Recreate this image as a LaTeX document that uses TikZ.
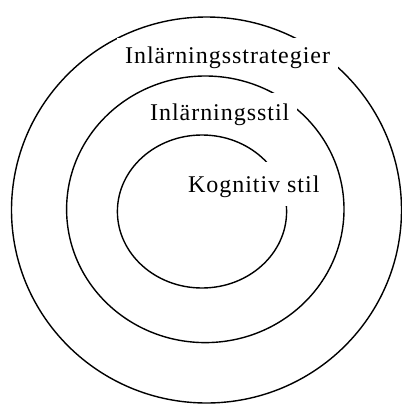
\documentclass[tikz,border=0pt]{standalone}
\usepackage{fontspec}
\setmainfont{Liberation Serif}
\newfontfamily\lab[LetterSpace=4]{Liberation Serif}
\begin{document}
\begin{tikzpicture}[x=1pt,y=-1pt,
  ring/.style={draw=black,line width=1.4pt},
  lbl/.style={fill=white,inner xsep=8pt,inner ysep=0pt,anchor=base west,font=\lab\fontsize{24}{28}\selectfont}]
\useasboundingbox (0,0) rectangle (402,405);
\draw[ring] (206.5,210) ellipse [x radius=195, y radius=193];
\draw[ring] (205.3,209.3) ellipse [x radius=138.7, y radius=133.3];
\draw[ring] (202,211.5) ellipse [x radius=84.6, y radius=76.5];
\node[lbl,text height=25pt,text depth=10pt] (strat) at (117,63) {Inlärningsstrategier};
\node[lbl,text height=27pt,text depth=9pt] (stil) at (142,120) {Inlärningsstil};
\node[lbl,text height=30pt,text depth=14pt] (kog) at (180,192) {Kognitiv stil};
\end{tikzpicture}
\end{document}
